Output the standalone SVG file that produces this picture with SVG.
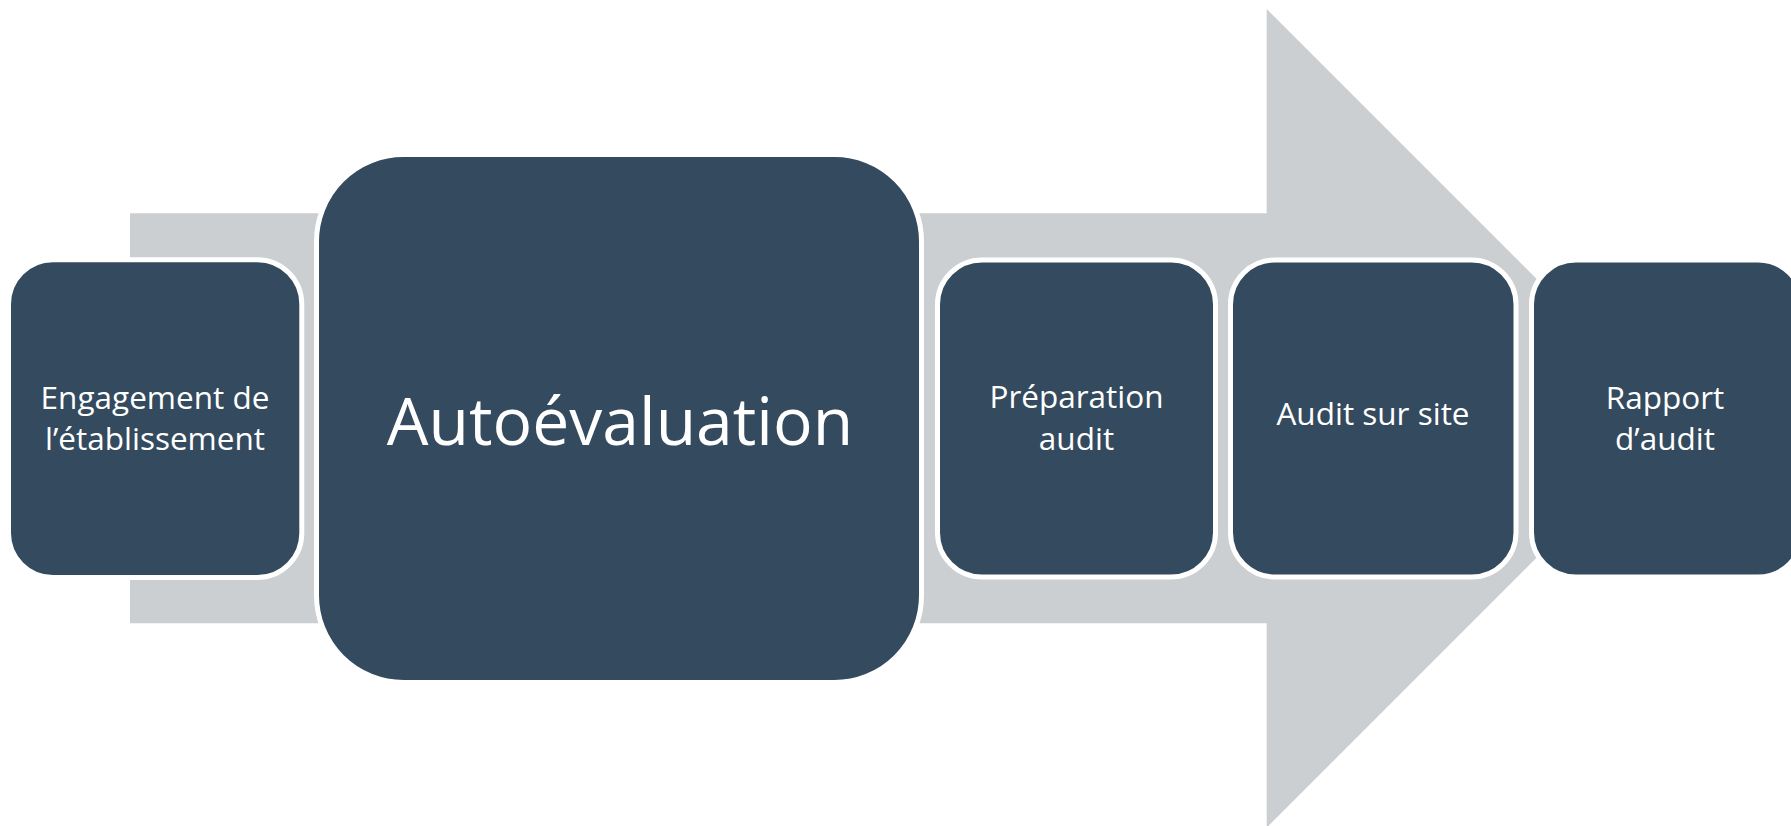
<svg xmlns="http://www.w3.org/2000/svg" width="1791" height="826" viewBox="0 0 1791 826">
<style>
.node{fill:#344A5E;stroke:#FFFFFF;stroke-width:5}
.t{font-family:"Open Sans","Noto Sans",sans-serif;fill:#FFFFFF;text-anchor:middle;font-size:31.5px}
.big{font-size:66px}
</style>
<rect width="1791" height="826" fill="#FFFFFF"/>
<g id="connectors">
<polygon points="130,213.3 1266.7,213.3 1266.7,9 1676,418.3 1266.7,827.6 1266.7,623.3 130,623.3" fill="#CBCFD2"/>
</g>
<g id="node1">
<rect class="node" x="8.5" y="259.8" width="293.3" height="317.7" rx="44.5"/>
<text class="t" x="155" y="409">Engagement de</text>
<text class="t" x="155" y="450">l’établissement</text>
</g>
<g id="node2">
<rect class="node" x="316.5" y="154.5" width="605" height="528" rx="87"/>
<text class="t big" x="620" y="445">Autoévaluation</text>
</g>
<g id="node3">
<rect class="node" x="937.5" y="260" width="278" height="317" rx="44.5"/>
<text class="t" x="1076.5" y="408">Préparation</text>
<text class="t" x="1076.5" y="450">audit</text>
</g>
<g id="node4">
<rect class="node" x="1230.5" y="260" width="285.5" height="317" rx="44.5"/>
<text class="t" x="1373" y="425">Audit sur site</text>
</g>
<g id="node5">
<rect class="node" x="1531.5" y="260" width="271" height="317" rx="44.5"/>
<text class="t" x="1665" y="409">Rapport</text>
<text class="t" x="1665" y="450">d’audit</text>
</g>
</svg>
